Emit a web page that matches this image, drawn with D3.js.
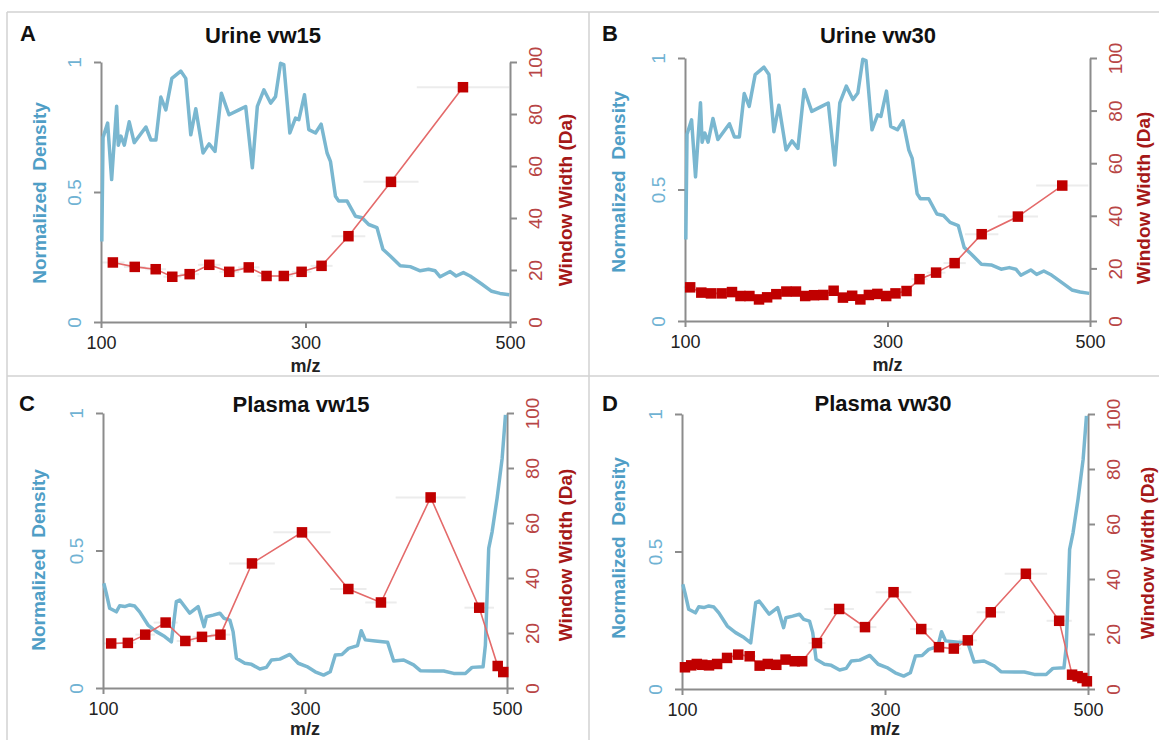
<!DOCTYPE html>
<html>
<head>
<meta charset="utf-8">
<script src="https://cdn.jsdelivr.net/npm/d3@7"></script>
<style>
  body { margin: 0; background: #fff; }
  svg { font-family: "Liberation Sans", Arial, sans-serif; }
</style>
</head>
<body>
<svg id="chart" width="1159" height="740"></svg>
<script>
// density curves (m/z, normalized density)
const urineDensityMz = [100.8,102,106.5,110.4,115.3,116.9,119.5,122.8,127.6,132.5,143.9,148.8,153.7,158.5,163.4,169.3,178,182.9,187.8,192.7,199.8,205.7,211.5,217.7,225.2,234.9,241.5,248,252.9,259.3,265.9,270.7,275.6,278.8,284.7,290.2,293.5,299,303.2,309.8,315.3,321.1,324.4,329.3,332.5,340.7,348.8,355.3,361.8,369.9,375.7,382.9,392.7,402.4,412.2,420.3,426.8,431.7,441.5,447.3,454.4,461,472.3,482.1,490.2,499.3]
const urineDensity = [0.31,0.71,0.765,0.548,0.83,0.68,0.715,0.68,0.77,0.69,0.75,0.70,0.70,0.865,0.816,0.937,0.965,0.937,0.72,0.82,0.65,0.685,0.656,0.88,0.797,0.816,0.829,0.593,0.829,0.893,0.842,0.867,0.995,0.99,0.727,0.784,0.778,0.874,0.74,0.727,0.761,0.65,0.618,0.484,0.465,0.465,0.407,0.401,0.375,0.363,0.28,0.254,0.216,0.213,0.197,0.203,0.197,0.174,0.194,0.177,0.19,0.177,0.146,0.118,0.11,0.105]

const plasmaDensityMz = [100.8,103.3,106.6,113.2,116.5,121.5,126.4,131.4,136.3,144.6,152.8,161.1,167.7,172.6,176,185.9,194.2,200.1,202.4,209,215.7,219.9,225.6,228.8,232.1,240.4,247,255.3,261.8,266.8,275.1,285,293.3,301.9,310.1,318.4,325,330,336.6,343.1,352,355.7,359.7,369.6,381.8,387.8,397.7,407.5,414.2,427.4,437.3,447.2,458.8,465.4,476.3,478.6,481.9,485.3,490.2,495.2,498.5]
const plasmaDensity = [0.381,0.344,0.29,0.277,0.299,0.296,0.302,0.298,0.277,0.229,0.205,0.187,0.168,0.314,0.32,0.272,0.296,0.223,0.259,0.265,0.272,0.253,0.247,0.205,0.108,0.09,0.086,0.069,0.075,0.102,0.105,0.122,0.09,0.078,0.059,0.047,0.059,0.12,0.122,0.144,0.154,0.208,0.175,0.171,0.166,0.098,0.102,0.084,0.063,0.062,0.062,0.053,0.053,0.075,0.077,0.156,0.508,0.569,0.69,0.835,0.993]

// window centres (m/z) and widths (Da)
const urine15Mz = [111.6,133,153.5,169.7,186.7,205.9,225.4,244.5,261.9,278.8,296.2,315.7,342,383.6,454]
const urine15Width = [22.9,21.2,20.3,17.4,18.4,22,19.3,21,17.7,17.7,19.3,21.6,33,53.9,90.3]

const urine30Mz = [105.1,116.1,125.6,136.2,146.4,154.8,163.6,173.1,181.1,190.2,200.1,209.6,218.7,227.5,236.6,246.8,256,265.1,273.2,281.6,290,298.7,307.9,318.8,331.6,348,366.3,393,428.8,472.6]
const urine30Width = [12.8,10.8,10.5,10.5,11,9.5,9.5,8.2,9,10.2,11.2,11.2,9.5,9.8,9.9,11.5,8.9,9.6,8.2,9.9,10.3,9.5,10.5,11.4,15.9,18.4,22,33,39.7,51.5]

const plasma15Mz = [108.1,124.6,141.8,162,181.5,198,216.3,247.5,297,342.9,375.2,424.4,472.5,490.8,496.3]
const plasma15Width = [16.2,16.4,19.4,23.8,17.1,18.6,19.4,45.3,56.6,36,31.1,69.3,29.2,8,5.8]

const plasma30Mz = [102.9,109.1,114.6,120,126.6,134.6,144.4,155.4,166.7,176.5,184.5,192.9,202,211.1,218.4,233,254.8,280.3,308.4,335.7,353.2,367.8,381.6,404.2,438.8,471.6,484.3,489.8,494.5,498.9]
const plasma30Width = [7.9,8.6,9.1,8.8,8.6,9.1,11.3,12.5,11.9,8.5,9.1,8.8,10.7,10.1,10.1,16.7,29.1,22.5,35.2,21.8,15.2,14.7,17.7,27.9,41.9,24.8,5.2,4.6,4,2.8]

const xTicks = [100, 300, 500]
const densityTicks = [0, 0.5, 1]
const widthTicks = [0, 20, 40, 60, 80, 100]

const panels = [
  { letter: 'A', title: 'Urine vw15', mz: urineDensityMz, dens: urineDensity, wMz: urine15Mz, w: urine15Width,
    box: [101, 510, 62, 322], titleX: 263, titleY: 43, letterX: 20, letterY: 41, mzY: 372, lTitle: [39, 193], rTitle: [565, 200] },
  { letter: 'B', title: 'Urine vw30', mz: urineDensityMz, dens: urineDensity, wMz: urine30Mz, w: urine30Width,
    box: [685, 1090, 58, 321], titleX: 878, titleY: 43, letterX: 602, letterY: 41, mzY: 371, lTitle: [618, 182], rTitle: [1143, 198] },
  { letter: 'C', title: 'Plasma vw15', mz: plasmaDensityMz, dens: plasmaDensity, wMz: plasma15Mz, w: plasma15Width,
    box: [103, 507, 413, 688], titleX: 301, titleY: 412, letterX: 19, letterY: 411, mzY: 735, lTitle: [38, 560], rTitle: [565, 555] },
  { letter: 'D', title: 'Plasma vw30', mz: plasmaDensityMz, dens: plasmaDensity, wMz: plasma30Mz, w: plasma30Width,
    box: [682, 1088, 414, 689], titleX: 883, titleY: 411, letterX: 602, letterY: 411, mzY: 735, lTitle: [618, 548], rTitle: [1147, 553] }
]

const svg = d3.select('#chart')

// panel frame lines
const frame = svg.append('g').attr('stroke', '#d2d2d2').attr('stroke-width', 1.5)
frame.append('line').attr('x1', 7).attr('x2', 1159).attr('y1', 12).attr('y2', 12)
frame.append('line').attr('x1', 7).attr('x2', 7).attr('y1', 12).attr('y2', 740)
frame.append('line').attr('x1', 589).attr('x2', 589).attr('y1', 12).attr('y2', 740)
frame.append('line').attr('x1', 7).attr('x2', 1159).attr('y1', 376).attr('y2', 376)

const blue = '#7ab7d0'
const red = '#c00000'

function styleAxis(g, color, size) {
  g.select('.domain').attr('stroke', '#8c8c8c').attr('stroke-width', 2)
  g.selectAll('.tick line').attr('stroke', '#8c8c8c').attr('stroke-width', 2)
  g.selectAll('.tick text').attr('fill', color).attr('font-size', size)
}

function drawPanel(p) {
  const [x0, x1, y0, y1] = p.box
  const x = d3.scaleLinear().domain([100, 500]).range([x0, x1])
  const yL = d3.scaleLinear().domain([0, 1]).range([y1, y0])
  const yR = d3.scaleLinear().domain([0, 100]).range([y1, y0])
  const g = svg.append('g')

  // faint horizontal bars showing window span
  g.selectAll('.span').data(p.wMz).enter().append('line')
    .attr('x1', (m, i) => x(m - p.w[i] / 2))
    .attr('x2', (m, i) => x(Math.min(500, m + p.w[i] / 2)))
    .attr('y1', (m, i) => yR(p.w[i]))
    .attr('y2', (m, i) => yR(p.w[i]))
    .attr('stroke', '#ececec').attr('stroke-width', 2)

  // axes
  const gx = g.append('g').attr('transform', `translate(0,${y1})`)
    .call(d3.axisBottom(x).tickValues(xTicks).tickSize(6).tickSizeOuter(0))
  styleAxis(gx, '#222', 18)
  gx.selectAll('.tick text').attr('y', 21).attr('dy', '0.35em')

  const gl = g.append('g').attr('transform', `translate(${x0},0)`)
    .call(d3.axisLeft(yL).tickValues(densityTicks).tickFormat(d3.format('')).tickSize(7).tickSizeOuter(0))
  styleAxis(gl, '#6fb2d3', 19)
  gl.selectAll('.tick text').attr('x', 0).attr('dy', '0.36em').attr('text-anchor', 'middle')
    .attr('transform', 'translate(-27,0) rotate(-90)')

  const gr = g.append('g').attr('transform', `translate(${x1},0)`)
    .call(d3.axisRight(yR).tickValues(widthTicks).tickSize(7).tickSizeOuter(0))
  styleAxis(gr, '#b84545', 19)
  gr.selectAll('.tick text').attr('x', 0).attr('dy', '0.36em').attr('text-anchor', 'middle')
    .attr('transform', 'translate(25,0) rotate(-90)')

  // density curve
  const line = d3.line().x((m, i) => x(m)).y((m, i) => yL(p.dens[i]))
  g.append('path').datum(p.mz).attr('d', line)
    .attr('fill', 'none').attr('stroke', blue).attr('stroke-width', 3.5)
    .attr('stroke-linejoin', 'round')

  // window width line + markers
  const wline = d3.line().x((m, i) => x(m)).y((m, i) => yR(p.w[i]))
  g.append('path').datum(p.wMz).attr('d', wline)
    .attr('fill', 'none').attr('stroke', '#e46a6a').attr('stroke-width', 1.6)
  const s = 10.5
  g.selectAll('.mk').data(p.wMz).enter().append('rect')
    .attr('x', m => x(m) - s / 2)
    .attr('y', (m, i) => yR(p.w[i]) - s / 2)
    .attr('width', s).attr('height', s)
    .attr('fill', red)

  // texts
  g.append('text').attr('x', p.letterX).attr('y', p.letterY).text(p.letter)
    .attr('font-size', 22).attr('font-weight', 'bold').attr('fill', '#111')
  g.append('text').attr('x', p.titleX).attr('y', p.titleY).text(p.title)
    .attr('text-anchor', 'middle').attr('font-size', 22).attr('font-weight', 'bold').attr('fill', '#111')
  g.append('text').attr('x', (x0 + x1) / 2).attr('y', p.mzY).text('m/z')
    .attr('text-anchor', 'middle').attr('font-size', 18).attr('font-weight', 'bold').attr('fill', '#222')
  g.append('text').attr('transform', `translate(${p.lTitle[0]},${p.lTitle[1]}) rotate(-90)`)
    .attr('text-anchor', 'middle').attr('dy', '0.36em').attr('xml:space', 'preserve')
    .style('white-space', 'pre')
    .text('Normalized  Density')
    .attr('font-size', 19).attr('font-weight', 'bold').attr('fill', '#4f9ec6')
  g.append('text').attr('transform', `translate(${p.rTitle[0]},${p.rTitle[1]}) rotate(-90)`)
    .attr('text-anchor', 'middle').attr('dy', '0.36em')
    .text('Window Width (Da)')
    .attr('font-size', 19).attr('font-weight', 'bold').attr('fill', '#a51818')
}

panels.forEach(drawPanel)
</script>
</body>
</html>
